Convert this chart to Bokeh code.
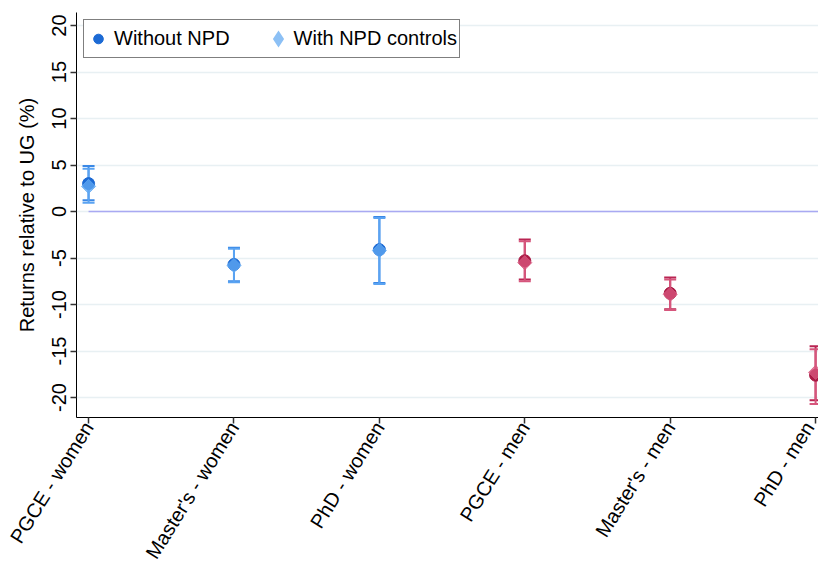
import math

from bokeh.embed import file_html
from bokeh.models import ColumnDataSource, FixedTicker, Legend, LegendItem
from bokeh.plotting import figure
from bokeh.resources import INLINE

# Estimated returns (%) relative to undergraduate degree, with 95% CIs
categories = ["PGCE - women", "Master's - women", "PhD - women",
              "PGCE - men", "Master's - men", "PhD - men"]
group = ["women", "women", "women", "men", "men", "men"]

est_without = [3.0, -5.7, -4.1, -5.3, -8.8, -17.6]
lo_without = [1.2, -7.5, -7.7, -7.3, -10.5, -20.3]
hi_without = [4.9, -3.9, -0.6, -3.0, -7.1, -14.5]

est_with = [2.7, -5.8, -4.2, -5.5, -8.9, -17.3]
lo_with = [0.95, -7.6, -7.8, -7.5, -10.6, -20.7]
hi_with = [4.6, -4.0, -0.7, -3.2, -7.3, -14.8]

y_ticks = [-20, -15, -10, -5, 0, 5, 10, 15, 20]

FONT = "Liberation Sans"

palette = {
    "without": {"women": ("#1c6ad4", "#3a88e6"), "men": ("#aa1a45", "#b92452")},
    "with": {"women": ("#62aaf3", "#5aa3f2"), "men": ("#d8587f", "#d6567c")},
}

x = list(range(len(categories)))


def make_source(est, lo, hi, key):
    return ColumnDataSource(dict(
        x=x, est=est, lo=lo, hi=hi,
        marker_color=[palette[key][g][0] for g in group],
        bar_color=[palette[key][g][1] for g in group],
    ))


src_without = make_source(est_without, lo_without, hi_without, "without")
src_with = make_source(est_with, lo_with, hi_with, "with")

p = figure(width=818, height=571, output_backend="svg", toolbar_location=None,
           x_range=(-0.083, 5.02), y_range=(-22.15, 21.4),
           min_border_left=76, min_border_right=0, min_border_top=12,
           min_border_bottom=154)
p.outline_line_color = None
p.background_fill_color = "white"
p.border_fill_color = "white"

# horizontal grid and the zero reference line
p.xgrid.grid_line_color = None
p.ygrid.grid_line_color = "#e8f0f3"
p.ygrid.grid_line_width = 1.5
p.ygrid.ticker = FixedTicker(ticks=y_ticks)
p.line(x=[0, len(categories)], y=[0, 0], line_color="#a9a9f2", line_width=1.5)

# confidence intervals (stems + caps) and point estimates
for src in (src_without, src_with):
    p.segment(x0="x", y0="lo", x1="x", y1="hi", source=src,
              line_color="bar_color", line_width=2)
    p.scatter(x="x", y="lo", source=src, marker="dash", size=12, angle=0,
              line_color="bar_color", line_width=2)
    p.scatter(x="x", y="hi", source=src, marker="dash", size=12, angle=0,
              line_color="bar_color", line_width=2)

r_without = p.scatter(x="x", y="est", source=src_without, marker="circle",
                      size=12, fill_color="marker_color",
                      line_color="marker_color")
p.scatter(x="x", y="est", source=src_with, marker="square",
          angle=math.pi / 4, size=10, fill_color="marker_color",
          fill_alpha=0.75, line_color="marker_color", line_alpha=0.75)

# hidden renderer that only supplies the diamond key in the legend
r_with_key = p.scatter(x="x", y="est", source=src_with, marker="diamond",
                       fill_color="#8cc0f5", line_color="#8cc0f5",
                       line_width=4, line_join="miter", visible=False)

# axes
p.xaxis.ticker = FixedTicker(ticks=x)
p.xaxis.major_label_overrides = {i: c for i, c in enumerate(categories)}
p.xaxis.major_label_orientation = math.radians(58)
p.yaxis.ticker = FixedTicker(ticks=y_ticks)
p.yaxis.major_label_overrides = {t: str(t) for t in y_ticks}
p.yaxis.major_label_orientation = "vertical"
p.yaxis.axis_label = "Returns relative to UG (%)"

for ax in (p.xaxis[0], p.yaxis[0]):
    ax.axis_line_color = "black"
    ax.axis_line_width = 1
    ax.major_tick_line_color = "#333333"
    ax.major_tick_line_width = 1.5
    ax.major_tick_out = 6
    ax.major_tick_in = 0
    ax.minor_tick_line_color = None
    ax.major_label_text_font = FONT
    ax.major_label_text_font_size = "20px"
    ax.major_label_text_color = "black"
    ax.major_label_standoff = 4
    ax.axis_label_text_font = FONT
    ax.axis_label_text_font_size = "20px"
    ax.axis_label_text_font_style = "normal"
    ax.axis_label_text_color = "black"
p.xaxis.major_label_standoff = 0
p.yaxis.axis_label_standoff = 12

legend = Legend(items=[
    LegendItem(label="Without NPD", renderers=[r_without], index=0),
    LegendItem(label="With NPD controls", renderers=[r_with_key], index=0),
], orientation="horizontal", location="top_left")
legend.margin = 7
legend.padding = 2
legend.spacing = 36
legend.label_standoff = 4
legend.glyph_width = 24
legend.glyph_height = 33
legend.label_height = 33
legend.label_text_font = FONT
legend.label_text_font_size = "20px"
legend.label_text_color = "black"
legend.border_line_color = "black"
legend.border_line_width = 1
legend.background_fill_color = "white"
legend.background_fill_alpha = 1
legend.inactive_fill_alpha = 0
legend.click_policy = "none"
p.add_layout(legend)

open("out.html", "w").write(file_html(p, INLINE))
